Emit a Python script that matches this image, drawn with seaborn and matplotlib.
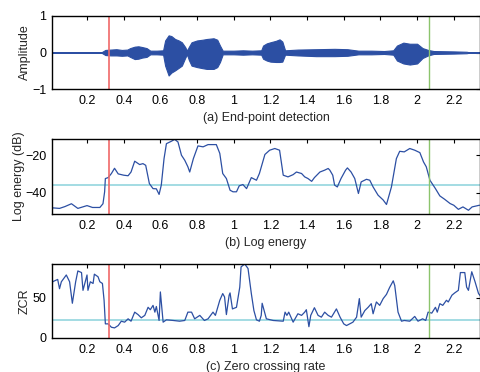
import numpy as np
import pandas as pd
import seaborn as sns
import matplotlib.pyplot as plt

# waveform envelope
env_t = [0.0, 0.28, 0.29, 0.30, 0.33, 0.36, 0.39, 0.42, 0.435, 0.46, 0.48, 0.50, 0.525, 0.545, 0.58, 0.615,
         0.626, 0.645, 0.66, 0.68, 0.70, 0.717, 0.735, 0.745, 0.755, 0.77, 0.80, 0.83, 0.853, 0.89, 0.91, 0.925,
         0.94, 1.0, 1.05, 1.10, 1.15, 1.16, 1.18, 1.20, 1.23, 1.25, 1.265, 1.28, 1.35, 1.45, 1.55, 1.62, 1.68,
         1.75, 1.82, 1.87, 1.89, 1.925, 1.96, 2.0, 2.03, 2.06, 2.09, 2.2, 2.27, 2.28, 2.35]
env_hi = [0.01, 0.01, 0.04, 0.07, 0.08, 0.09, 0.07, 0.08, 0.12, 0.16, 0.17, 0.15, 0.12, 0.05, 0.05, 0.06,
          0.33, 0.47, 0.45, 0.37, 0.33, 0.28, 0.15, 0.05, 0.15, 0.28, 0.33, 0.35, 0.37, 0.39, 0.35, 0.19,
          0.05, 0.05, 0.06, 0.05, 0.06, 0.19, 0.25, 0.28, 0.32, 0.36, 0.30, 0.06, 0.08, 0.09, 0.10, 0.09, 0.05,
          0.05, 0.04, 0.06, 0.19, 0.27, 0.24, 0.24, 0.12, 0.07, 0.04, 0.03, 0.02, 0.01, 0.01]
env_lo = [-0.01, -0.01, -0.04, -0.07, -0.08, -0.08, -0.09, -0.08, -0.12, -0.18, -0.17, -0.14, -0.12, -0.05, -0.05, -0.06,
          -0.36, -0.63, -0.55, -0.49, -0.42, -0.36, -0.15, -0.05, -0.20, -0.36, -0.40, -0.43, -0.45, -0.45, -0.40, -0.26,
          -0.05, -0.05, -0.06, -0.05, -0.06, -0.17, -0.22, -0.25, -0.26, -0.26, -0.25, -0.06, -0.08, -0.10, -0.10, -0.09, -0.05,
          -0.05, -0.04, -0.06, -0.22, -0.30, -0.33, -0.30, -0.15, -0.08, -0.04, -0.03, -0.02, -0.01, -0.01]

# log energy (panel b)
le_t = [0.009, 0.012, 0.05, 0.08, 0.115, 0.15, 0.2, 0.23, 0.27, 0.287, 0.296, 0.30, 0.315, 0.333, 0.35, 0.37,
        0.40, 0.424, 0.44, 0.46, 0.487, 0.505, 0.52, 0.54, 0.56, 0.578, 0.593, 0.605, 0.62, 0.633, 0.66, 0.678,
        0.696, 0.715, 0.733, 0.75, 0.76, 0.78, 0.805, 0.833, 0.86, 0.905, 0.924, 0.94, 0.96, 0.98, 0.996, 1.015,
        1.03, 1.05, 1.07, 1.096, 1.124, 1.14, 1.17, 1.196, 1.224, 1.25, 1.27, 1.296, 1.324, 1.342, 1.37, 1.387,
        1.405, 1.425, 1.44, 1.47, 1.496, 1.515, 1.524, 1.54, 1.55, 1.565, 1.585, 1.61, 1.62, 1.64, 1.66, 1.68,
        1.695, 1.724, 1.742, 1.76, 1.787, 1.815, 1.833, 1.84, 1.86, 1.887, 1.905, 1.93, 1.96, 1.987, 2.015, 2.035,
        2.05, 2.07, 2.1, 2.124, 2.15, 2.18, 2.2, 2.225, 2.25, 2.28, 2.3, 2.34]
le_db = [-51.3, -48.2, -48.5, -47.5, -46.0, -48.5, -47.0, -48.0, -48.0, -46.0, -39.6, -32.5, -32.0, -29.8, -27.0, -30.0,
         -30.7, -31.0, -29.0, -23.2, -25.0, -24.5, -25.4, -35.2, -37.9, -38.0, -41.0, -36.0, -21.8, -13.8, -12.5, -11.5,
         -12.9, -20.0, -22.7, -26.2, -29.0, -21.8, -15.0, -15.5, -14.3, -14.3, -19.0, -29.8, -32.5, -38.75, -39.6, -39.6,
         -36.4, -35.7, -37.9, -32.0, -33.4, -29.8, -19.6, -17.3, -16.4, -17.3, -30.7, -31.6, -30.4, -29.0, -29.8, -31.6,
         -32.5, -34.0, -32.0, -29.0, -28.0, -27.1, -28.0, -30.7, -36.0, -37.0, -32.5, -28.0, -26.8, -29.0, -32.5, -40.5,
         -34.3, -32.9, -33.4, -37.0, -41.4, -44.0, -46.4, -44.0, -37.0, -21.8, -17.9, -18.2, -16.4, -17.3, -18.6, -23.6,
         -26.2, -33.4, -37.9, -41.8, -43.6, -45.9, -46.8, -49.0, -47.7, -49.5, -47.7, -46.8]

# zero crossing rate (panel c)
zcr_t = [0.009, 0.012, 0.04, 0.05, 0.06, 0.087, 0.105, 0.12, 0.138, 0.15, 0.17, 0.178, 0.2, 0.205, 0.218, 0.233,
         0.24, 0.26, 0.27, 0.284, 0.293, 0.30, 0.315, 0.333, 0.35, 0.37, 0.387, 0.405, 0.424, 0.44, 0.46, 0.478,
         0.496, 0.515, 0.533, 0.545, 0.56, 0.57, 0.578, 0.593, 0.60, 0.615, 0.633, 0.67, 0.705, 0.733, 0.75, 0.77,
         0.787, 0.815, 0.84, 0.86, 0.887, 0.90, 0.924, 0.94, 0.95, 0.96, 0.975, 0.98, 0.993, 1.015, 1.033, 1.04,
         1.06, 1.078, 1.096, 1.11, 1.124, 1.14, 1.15, 1.155, 1.178, 1.215, 1.27, 1.28, 1.29, 1.30, 1.324, 1.35,
         1.37, 1.387, 1.396, 1.41, 1.42, 1.44, 1.46, 1.478, 1.496, 1.515, 1.533, 1.56, 1.58, 1.60, 1.615, 1.65,
         1.67, 1.685, 1.695, 1.715, 1.733, 1.75, 1.76, 1.778, 1.796, 1.815, 1.833, 1.85, 1.87, 1.878, 1.896, 1.915,
         1.93, 1.96, 1.987, 2.005, 2.03, 2.047, 2.06, 2.08, 2.10, 2.11, 2.124, 2.14, 2.16, 2.17, 2.19, 2.205,
         2.225, 2.236, 2.26, 2.27, 2.28, 2.298, 2.316, 2.335, 2.35]
zcr = [57, 69.6, 72.5, 61, 69.6, 78, 69.6, 43, 69.6, 83, 81, 59, 78, 59, 69.6, 67.5,
       79, 75.8, 69.6, 67.5, 46.7, 17.5, 17.5, 13.3, 12.5, 15.4, 20.8, 19.6, 23.75, 20.8, 32, 29,
       25, 28, 38, 35, 40.4, 32, 39, 21.7, 57, 19.6, 22.5, 21.7, 20.8, 21.7, 32, 32,
       23.75, 28, 21.7, 23.75, 32, 28, 46.7, 55, 50.8, 29, 53, 55.8, 36, 38, 63, 88,
       91.6, 86, 55, 34, 22.5, 20.8, 28, 43, 23.75, 21.7, 20.8, 32, 28, 32, 19.6, 30,
       28, 32, 35, 14, 28, 37.5, 28, 25.8, 32, 28, 25.8, 36, 25.8, 17.5, 15.4, 19.6,
       25.8, 48.75, 25.8, 34, 38, 42.5, 30, 44.6, 40.4, 48.75, 54, 62.5, 70.8, 65, 32, 20.8,
       21.7, 20.8, 26.7, 20.8, 23.75, 21.7, 32, 30.8, 38, 32, 42.5, 40.4, 46.7, 44.6, 53, 55.8,
       59, 81, 81, 63, 59, 82, 69.6, 55, 50.8]

start_pt, end_pt = 0.32, 2.065
energy_thr, zcr_thr = -36, 22.5
x_ticks = [0.2, 0.4, 0.6, 0.8, 1, 1.2, 1.4, 1.6, 1.8, 2, 2.2]

sns.set_style("white")
plt.rcParams['font.family'] = ['Liberation Sans', 'DejaVu Sans']
plt.rcParams['font.size'] = 9

blue = '#2c4fa3'
fig = plt.figure(figsize=(4.81, 3.72), dpi=100)
H = 372.0
left, width = 52 / 481, 428 / 481
rows = [(16, 89), (139, 214), (264, 338)]
axes = [fig.add_axes([left, (H - b) / H, width, (b - t) / H]) for t, b in rows]

df_le = pd.DataFrame({'t': le_t, 'db': le_db})
df_zcr = pd.DataFrame({'t': zcr_t, 'zcr': zcr})

ax = axes[0]
ax.fill_between(env_t, env_lo, env_hi, color=blue, lw=0.8)
ax.set_ylim(-1, 1)
ax.set_yticks([-1, 0, 1])
ax.set_ylabel('Amplitude', fontsize=9)
ax.set_xlabel('(a) End-point detection', fontsize=9, labelpad=4)
ax.yaxis.set_label_coords(-0.049, 0.5)

ax = axes[1]
sns.lineplot(data=df_le, x='t', y='db', ax=ax, color=blue, lw=0.9)
ax.axhline(energy_thr, color='#93d6de', lw=1.2, zorder=0)
ax.set_ylim(-51.5, -11.3)
ax.set_yticks([-40, -20])
ax.set_ylabel('Log energy (dB)', fontsize=9)
ax.set_xlabel('(b) Log energy', fontsize=9, labelpad=4)
ax.yaxis.set_label_coords(-0.063, 0.5)

ax = axes[2]
sns.lineplot(data=df_zcr, x='t', y='zcr', ax=ax, color=blue, lw=0.9)
ax.axhline(zcr_thr, color='#93d6de', lw=1.2, zorder=0)
ax.set_ylim(0, 91.6)
ax.set_yticks([0, 50])
ax.set_ylabel('ZCR', fontsize=9)
ax.set_xlabel('(c) Zero crossing rate', fontsize=9, labelpad=4)
ax.yaxis.set_label_coords(-0.049, 0.5)

for ax in axes:
    ax.axvline(start_pt, color='#f06868', lw=1.2)
    ax.axvline(end_pt, color='#8cc46c', lw=1.0)
    ax.set_xlim(0.009, 2.343)
    ax.set_xticks(x_ticks)
    ax.set_xticklabels(['%g' % v for v in x_ticks])
    ax.tick_params(direction='in', length=3, width=0.8, top=True, right=True,
                   labelsize=9, pad=4, colors='black')
    for s in ax.spines.values():
        s.set_visible(True)
        s.set_color('black')
        s.set_linewidth(1.0)

fig.savefig('out.png', dpi=100)
